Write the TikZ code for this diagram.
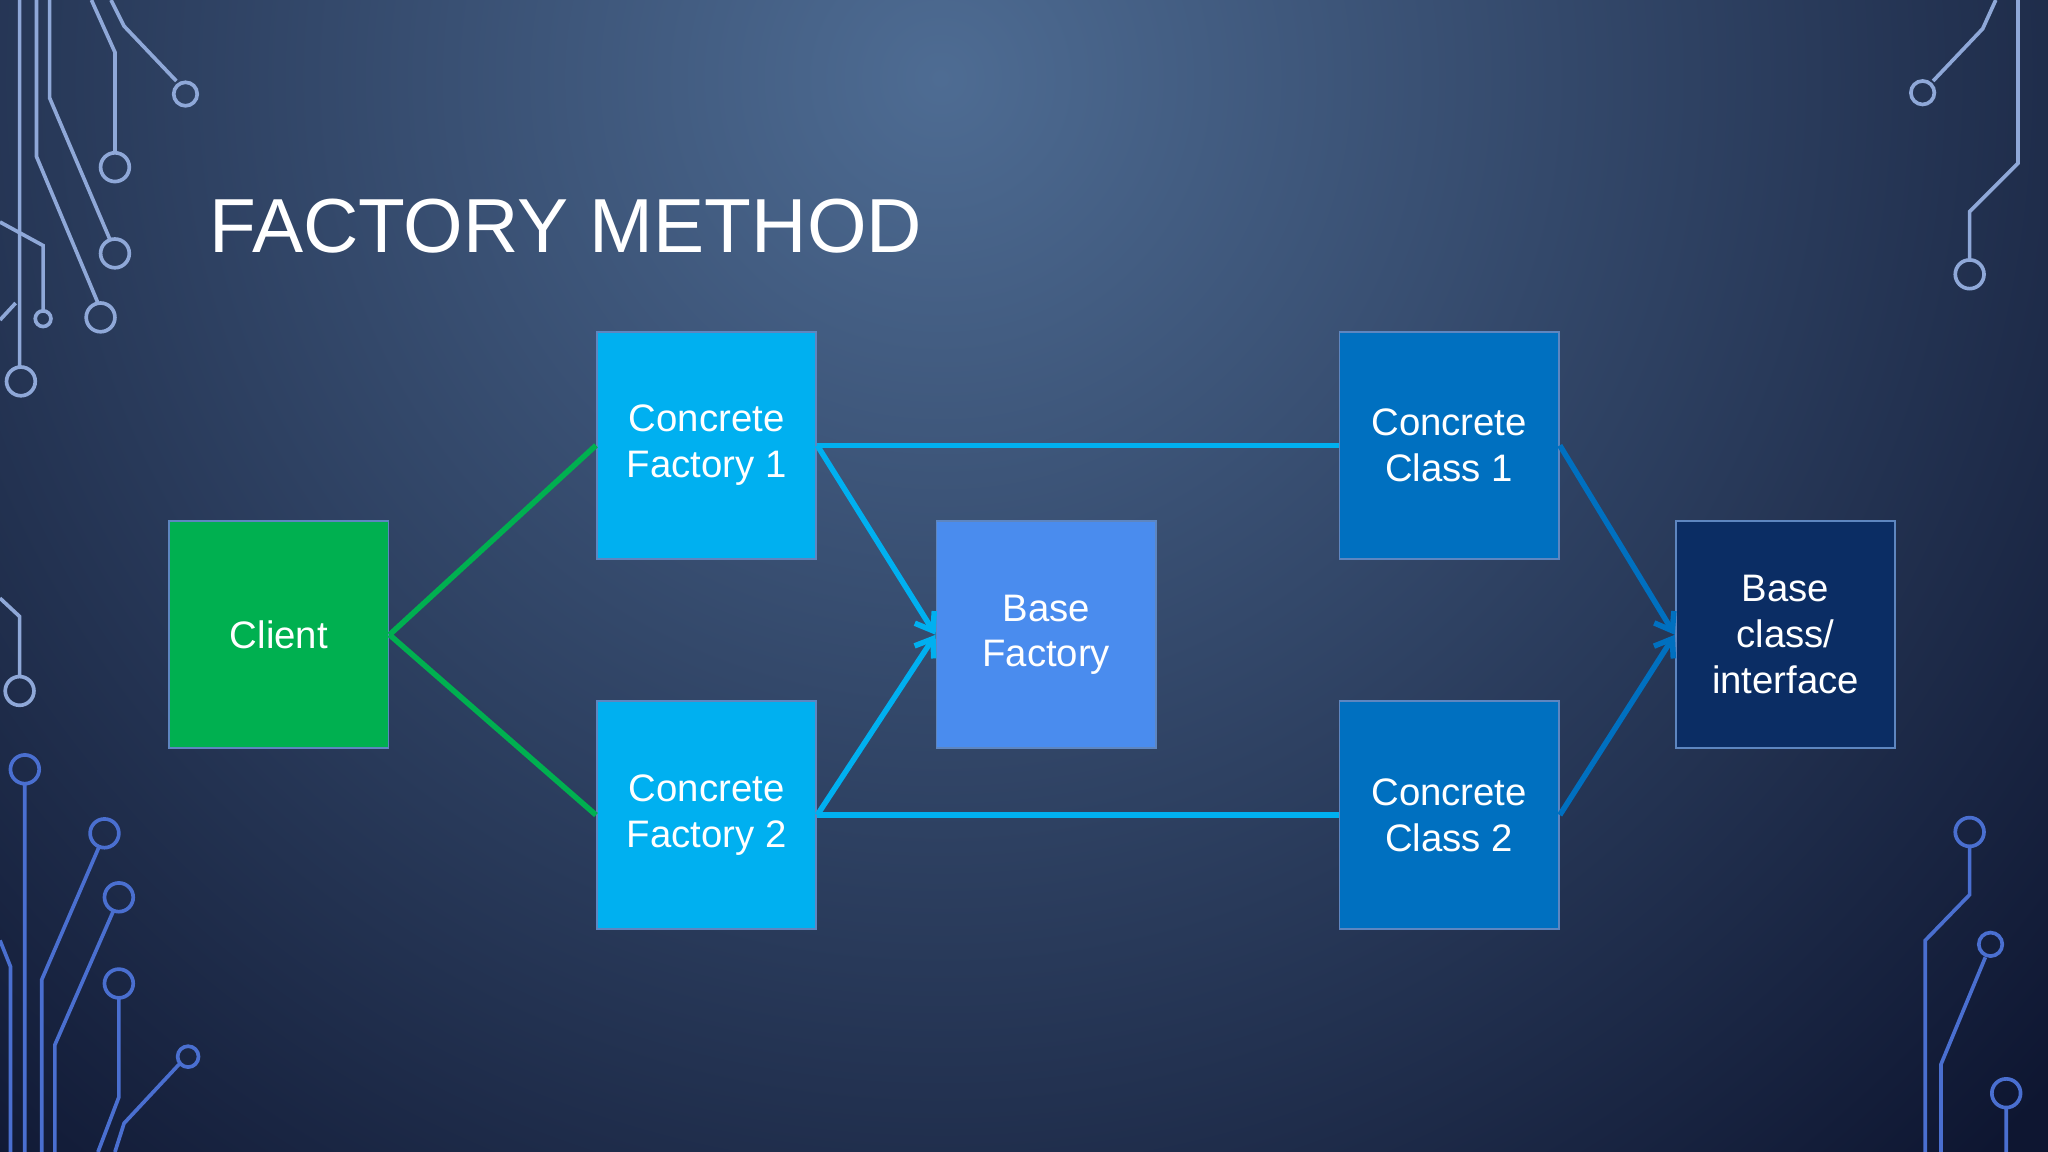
\documentclass[tikz,border=0pt]{standalone}
\usepackage{fontspec}
\setmainfont{Liberation Sans}
\usetikzlibrary{arrows.meta}
\definecolor{bgout}{HTML}{0E1631}
\definecolor{bgin}{HTML}{4E6C93}
\definecolor{cgreen}{HTML}{00B050}
\definecolor{cfac}{HTML}{00B0F0}
\definecolor{cbase}{HTML}{4A8CEE}
\definecolor{ccls}{HTML}{0070C0}
\definecolor{cbcl}{HTML}{0B2D64}
\definecolor{circ}{HTML}{8FA8D8}
\definecolor{circb}{HTML}{4A6FD0}
\definecolor{bord}{HTML}{5E86C0}
\begin{document}
\begin{tikzpicture}[x=0.02cm,y=-0.02cm,
  box/.style={minimum width=168*0.02cm,minimum height=174*0.02cm,draw=bord,line width=0.8pt,text=white,font=\fontsize{16.7}{20}\selectfont,align=center,inner sep=0pt},
  gline/.style={draw=cgreen,line width=2.4pt},
  fline/.style={draw=cfac,line width=2.4pt},
  cline/.style={draw=ccls,line width=2.4pt},
  arr/.style={-{Straight Barb[length=7pt,width=10pt]}},
  tr/.style={draw=circ,line width=1.6pt},
  trb/.style={draw=circb,line width=1.6pt}]
\useasboundingbox (0,0) rectangle (1568,882);
\begin{scope}
\clip (0,0) rectangle (1568,882);
\fill[bgout] (0,0) rectangle (1568,882);
\shade[inner color=bgin, outer color=bgout] (720,60) circle (1150);
% top-left circuits
\draw[tr] (15,0) -- (15,280) (16,292) circle (11);
\draw[tr] (28,0) -- (28,120) -- (75,232) (77,243) circle (11);
\draw[tr] (38,0) -- (38,75) -- (84,183) (88,194) circle (11);
\draw[tr] (70,0) -- (88,40) -- (88,117) (88,128) circle (11);
\draw[tr] (85,0) -- (95,20) -- (135,62) (142,72) circle (9);
\draw[tr] (0,170) -- (33,188) -- (33,238) (33,244) circle (6);
\draw[tr] (0,245) -- (12,232);
% left middle/bottom
\draw[tr] (0,458) -- (15,472) -- (15,517) (15,529) circle (11);
\draw[trb] (19,600) -- (19,882) (19,589) circle (11);
\draw[trb] (0,720) -- (8,740) -- (8,882);
\draw[trb] (76,648) -- (32,750) -- (32,882) (80,638) circle (11);
\draw[trb] (87,697) -- (42,800) -- (42,882) (91,687) circle (11);
\draw[trb] (91,764) -- (91,840) -- (75,882) (91,753) circle (11);
\draw[trb] (137,815) -- (95,860) -- (88,882) (144,809) circle (8);
% top-right
\draw[tr] (1528,0) -- (1518,22) -- (1480,62) (1472,71) circle (9);
\draw[tr] (1545,0) -- (1545,125) -- (1508,162) -- (1508,198) (1508,210) circle (11);
% bottom-right
\draw[trb] (1508,649) -- (1508,685) -- (1474,720) -- (1474,882) (1508,637) circle (11);
\draw[trb] (1520,733) -- (1486,815) -- (1486,882) (1524,723) circle (9);
\draw[trb] (1536,848) -- (1536,882) (1536,837) circle (11);
\end{scope}
\node[anchor=base west,text=white,font=\fontsize{33.4}{38}\selectfont,inner sep=0pt] (title) at (160,193) {FACTORY METHOD};
\node[box,fill=cgreen] (client) at (213.5,486) {Client};
\node[box,fill=cfac] (cf1) at (541,341) {Concrete\\Factory 1};
\node[box,fill=cfac] (cf2) at (541,624) {Concrete\\Factory 2};
\node[box,fill=cbase] (bf) at (801,486) {Base\\Factory};
\node[box,fill=ccls] (cc1) at (1109.5,341) {Concrete\\Class 1};
\node[box,fill=ccls] (cc2) at (1109.5,624) {Concrete\\Class 2};
\node[box,fill=cbcl] (bc) at (1367,486) {Base\\class/\\interface};
\draw[gline] (client.east) -- (cf1.west);
\draw[gline] (client.east) -- (cf2.west);
\draw[fline] (cf1.east) -- (cc1.west);
\draw[fline] (cf2.east) -- (cc2.west);
\draw[fline,arr] (cf1.east) -- (bf.west);
\draw[fline,arr] (cf2.east) -- (bf.west);
\draw[cline,arr] (cc1.east) -- (bc.west);
\draw[cline,arr] (cc2.east) -- (bc.west);
\end{tikzpicture}
\end{document}
